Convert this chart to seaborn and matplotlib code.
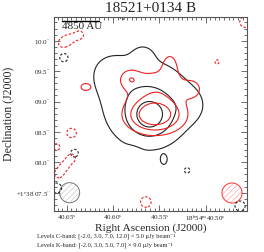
import numpy as np
import seaborn as sns
import matplotlib.pyplot as plt
from matplotlib.patches import Ellipse
from matplotlib.ticker import FixedLocator, MultipleLocator

sns.set_theme(style="ticks")
plt.rcParams['font.family'] = ['Liberation Serif', 'DejaVu Serif']
plt.rcParams['mathtext.fontset'] = 'stix'
plt.rcParams['hatch.linewidth'] = 0.4

# C-band emission components (RA seconds, Dec arcsec, sigma RA/Dec arcsec, uJy)
c_ra = [40.5625, 40.5602, 40.6037, 40.5679, 40.5169, 40.5451,
        40.6530, 40.6416, 40.5798, 40.5202, 40.6612, 40.4627, 40.5895]
c_dec = [8.942, 8.7615, 9.485, 9.765, 8.942, 8.038,
         9.72, 8.153, 8.087, 7.873, 7.577, 7.281, 10.40]
c_sx = [0.53, 0.20, 0.25, 0.13, 0.20, 0.04,
        0.09, 0.09, 0.09, 0.09, 0.10, 0.10, 0.08]
c_sy = [0.53, 0.20, 0.25, 0.13, 0.20, 0.06,
        0.09, 0.09, 0.09, 0.09, 0.10, 0.10, 0.08]
c_amp = [38, 45, 15, 12, 10, 18,
         -14, -14, -14, -14, -14, -14, -13]

# K-band emission components
k_ra = [40.5548, 40.5516, 40.5386, 40.5820, 40.5137, 40.6297,
        40.6546, 40.6471, 40.6362, 40.4573, 40.6449,
        40.6590, 40.6525, 40.6449, 40.5646, 40.4876, 40.6612]
k_dec = [8.778, 9.321, 9.633, 9.386, 9.189, 9.238,
         9.962, 10.028, 10.094, 10.307, 8.482,
         7.808, 7.939, 8.071, 7.347, 9.65, 8.252]
k_sx = [0.36, 0.50, 0.10, 0.12, 0.10, 0.11,
        0.08, 0.08, 0.08, 0.10, 0.09,
        0.08, 0.08, 0.08, 0.10, 0.05, 0.07]
k_sy = [0.23, 0.20, 0.15, 0.12, 0.10, 0.08,
        0.08, 0.08, 0.08, 0.10, 0.09,
        0.08, 0.08, 0.08, 0.10, 0.05, 0.07]
k_amp = [80, 34, 30, 22, 24, 32,
         -24, -22, -24, -26, -26,
         -24, -22, -24, -26, -24, -24]

c_levels = [-2.0, 3.0, 7.0, 12.0]
c_rms = 5.0
k_levels = [-2.0, 3.0, 5.0, 7.0]
k_rms = 9.0

x_ticks = [40.65, 40.60, 40.55, 40.50]
x_labels = [r"40.65$^{\rm s}$", r"40.60$^{\rm s}$", r"40.55$^{\rm s}$",
            r"18$^{\rm h}$54$^{\rm m}$40.50$^{\rm s}$"]
y_ticks = [7.5, 8.0, 8.5, 9.0, 9.5, 10.0]
y_labels = [r"+1$^{\circ}$38$^{\prime}$07.5$^{\prime\prime}$", r"08.0$^{\prime\prime}$",
            r"08.5$^{\prime\prime}$", r"09.0$^{\prime\prime}$",
            r"09.5$^{\prime\prime}$", r"10.0$^{\prime\prime}$"]

ra_lim = (40.6639, 40.4552)
dec_lim = (7.204, 10.398)

ra = np.linspace(ra_lim[1], ra_lim[0], 400)
dec = np.linspace(dec_lim[0], dec_lim[1], 400)
RA, DEC = np.meshgrid(ra, dec)


def field(ras, decs, sxs, sys_, amps):
    img = np.zeros_like(RA)
    for r0, d0, sx, sy, a in zip(ras, decs, sxs, sys_, amps):
        dx = (RA - r0) * 15.0
        dy = DEC - d0
        img += a * np.exp(-0.5 * ((dx / sx)**2 + (dy / sy)**2))
    return img


c_img = field(c_ra, c_dec, c_sx, c_sy, c_amp)
k_img = field(k_ra, k_dec, k_sx, k_sy, k_amp)

fig = plt.figure(figsize=(2.64, 2.52), dpi=100)
ax = fig.add_axes([54 / 264, 1 - 210.7 / 252, 193 / 264, 194.2 / 252])

styles = [(0, (2.2, 1.6)), '-', '-', '-']
ax.contour(RA, DEC, c_img, levels=np.array(c_levels) * c_rms,
           colors='#222222', linewidths=0.8, linestyles=styles)
ax.contour(RA, DEC, k_img, levels=np.array(k_levels) * k_rms,
           colors='#ee2020', linewidths=0.8, linestyles=styles)

# beams
ax.add_patch(Ellipse((40.6470, 7.50), 0.0217, 0.33, facecolor='none',
                     edgecolor='#c0c0c0', hatch='//////', linewidth=0))
ax.add_patch(Ellipse((40.6470, 7.50), 0.0217, 0.33, facecolor='none',
                     edgecolor='#777777', linewidth=0.7))
ax.add_patch(Ellipse((40.4714, 7.495), 0.0217, 0.33, facecolor='none',
                     edgecolor='#ff9a9a', hatch='//////', linewidth=0))
ax.add_patch(Ellipse((40.4714, 7.495), 0.0217, 0.33, facecolor='none',
                     edgecolor='#ff3030', linewidth=0.7))

# scale bar
ax.plot([40.6557, 40.6156], [10.33, 10.33], color='black', lw=1.0)
ax.text(40.6557, 10.30, "4850 AU", fontsize=8, va='top', ha='left')

ax.set_xlim(*ra_lim)
ax.set_ylim(*dec_lim)
ax.xaxis.set_major_locator(FixedLocator(x_ticks))
ax.set_xticklabels(x_labels)
ax.yaxis.set_major_locator(FixedLocator(y_ticks))
ax.set_yticklabels(y_labels)
ax.xaxis.set_minor_locator(MultipleLocator(0.005))
ax.yaxis.set_minor_locator(MultipleLocator(0.1))
ax.tick_params(which='both', direction='in', top=True, right=True,
               labelsize=5, color='#555555', width=0.6, pad=2)
ax.tick_params(which='major', length=4)
ax.tick_params(which='minor', length=2)
for s in ax.spines.values():
    s.set_color('#555555')
    s.set_linewidth(0.8)

ax.set_title("18521+0134 B", fontsize=11, pad=3)
ax.set_xlabel("Right Ascension (J2000)", fontsize=8.2, labelpad=0)
ax.set_ylabel("Declination (J2000)", fontsize=8.5, labelpad=1)

fig.text(37 / 264, 1 - 236 / 252,
         "Levels C-band: [-2.0, 3.0, 7.0, 12.0] × 5.0 μJy beam⁻¹",
         fontsize=4.6, va='center')
fig.text(37 / 264, 1 - 245 / 252,
         "Levels K-band: [-2.0, 3.0, 5.0, 7.0] × 9.0 μJy beam⁻¹",
         fontsize=4.6, va='center')

fig.savefig("out.png", dpi=100)
